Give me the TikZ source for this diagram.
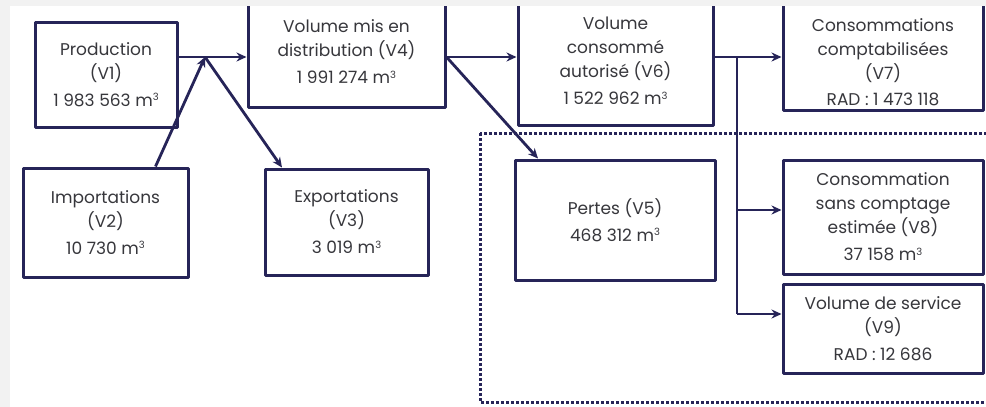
\documentclass[tikz,border=0pt]{standalone}
\usepackage{fontspec}
\setmainfont{Poppins}
\usetikzlibrary{arrows.meta}
\definecolor{navy}{RGB}{38,36,88}
\definecolor{bggray}{RGB}{242,242,242}
\definecolor{txtgray}{RGB}{55,55,60}
\newcommand{\mcube}{m\raisebox{0.6ex}{\fontsize{10}{10}\selectfont 3}}
\begin{document}
\begin{tikzpicture}[x=1pt,y=-1pt,>={Stealth[length=10pt,width=9pt]},line join=round,
		font=\fontsize{17}{24}\selectfont,
		box/.style={draw=navy,line width=3pt,fill=white,text=txtgray,align=center,inner sep=0pt},
		arr/.style={->,draw=navy,line width=2.8pt}]
	\useasboundingbox (0,0) rectangle (986,407);
	\fill[bggray] (0,0) rectangle (986,407);
	\fill[white] (10,6) rectangle (986,407);
	% zone des pertes
	\draw[navy,line width=3pt,dash pattern=on 2.6pt off 2.4pt] (480,133) rectangle (992,402);
	% boites
	\node[box,minimum width=142pt,minimum height=105pt] (v1) at (106,74.5) {Production\\(V1)\\[3pt]1 983 563 \mcube};
	\node[box,minimum width=165pt,minimum height=109pt] (v2) at (105.5,222.5) {Importations\\(V2)\\[3pt]10 730 \mcube};
	\node[box,minimum width=163pt,minimum height=106pt] (v3) at (346.5,222) {Exportations\\(V3)\\[3pt]3 019 \mcube};
	\node[box,minimum width=197pt,minimum height=110pt] (v4) at (346.5,52) {Volume mis en\\distribution (V4)\\[3pt]1 991 274 \mcube};
	\node[box,minimum width=200pt,minimum height=120pt] (v5) at (615,220) {Pertes (V5)\\[3pt]468 312 \mcube};
	\node[box,minimum width=195pt,minimum height=128pt] (v6) at (615.5,61) {Volume\\consommé\\autorisé (V6)\\[3pt]1 522 962 \mcube};
	\node[box,minimum width=200pt,minimum height=113pt] (v7) at (883,53.5) {};
	\node[text=txtgray,align=center] (t7) at (883,62) {Consommations\\comptabilisées\\(V7)\\[2pt]RAD : 1 473 118};
	\node[box,minimum width=200pt,minimum height=114pt] (v8) at (883,217) {Consommation\\sans comptage\\estimée (V8)\\[3pt]37 158 \mcube};
	\node[box,minimum width=200pt,minimum height=89pt] (v9) at (883,328.5) {Volume de service\\(V9)\\[3pt]RAD : 12 686};
	% jonctions
	\coordinate (j1) at (205,57);
	\coordinate (j2) at (v4.east |- j1);
	\coordinate (j3) at (737,57);
	\coordinate (j4) at (737,210);
	\coordinate (j5) at (737,314);
	% fleches
	\draw[navy,line width=2.8pt] (v1.east |- j1) -- (j1);
	\draw[arr] (j1) -- (v4.west |- j1);
	\draw[arr] ([xshift=50pt]v2.north) -- (j1);
	\draw[arr] (j1) -- ([xshift=-64.5pt]v3.north);
	\draw[arr] (j2) -- (v6.west |- j2);
	\draw[arr] (j2) -- ([xshift=-77pt]v5.north);
	\draw[arr] (v6.east |- j3) -- (v7.west |- j3);
	\draw[navy,line width=2.8pt] (j3) -- (j5);
	\draw[arr] (j4) -- (v8.west |- j4);
	\draw[arr] (j5) -- (v9.west |- j5);
	% bandeau haut
	\fill[bggray] (0,0) rectangle (986,6);
\end{tikzpicture}
\end{document}
